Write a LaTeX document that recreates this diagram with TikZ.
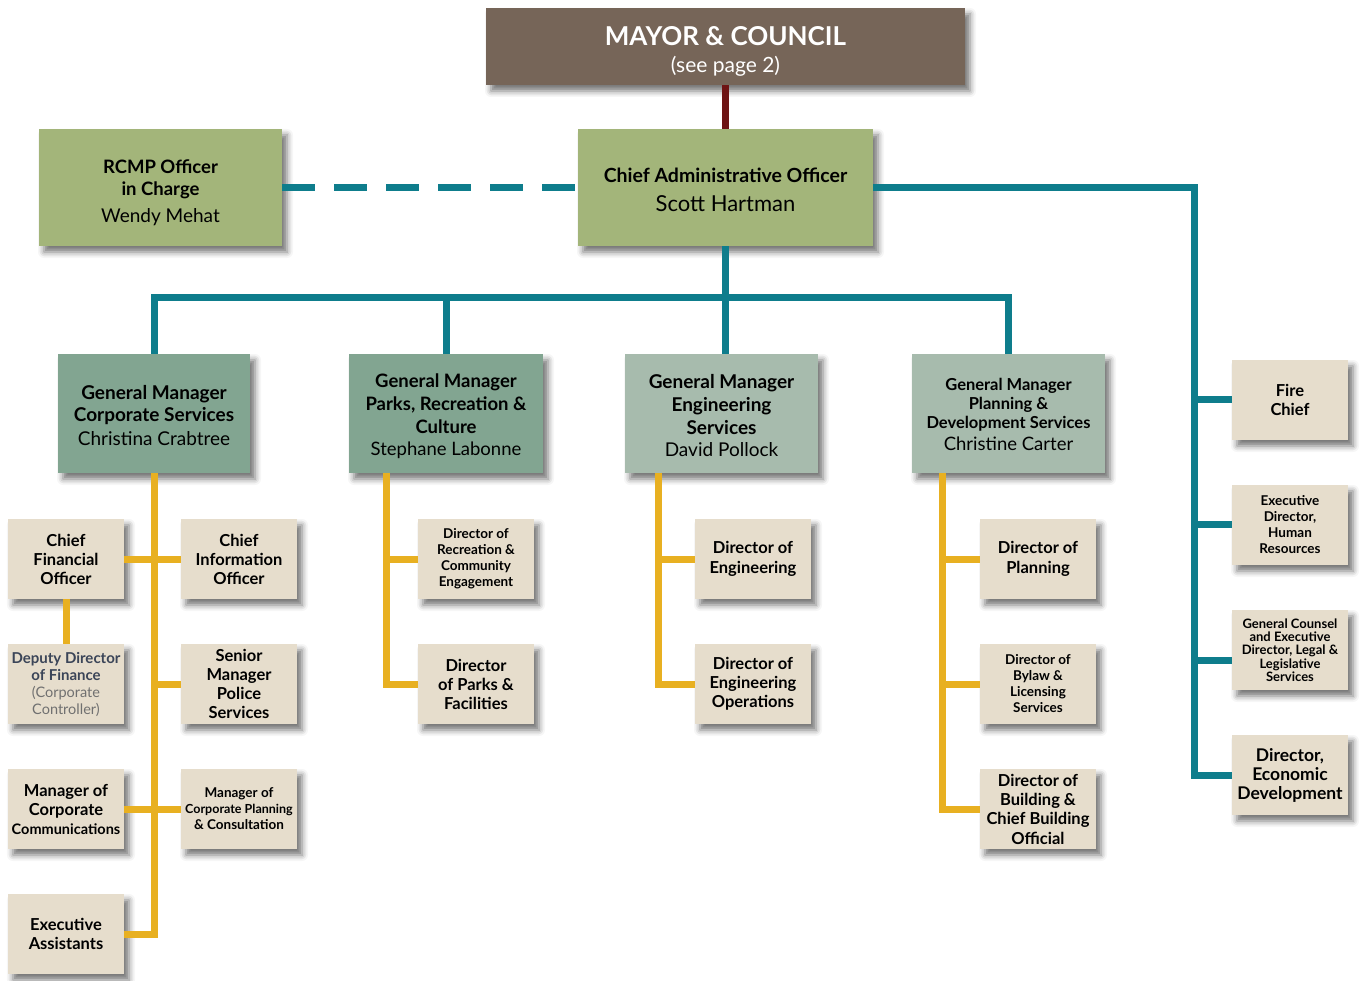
\documentclass[tikz,border=0pt]{standalone}
\usepackage{fontspec}
\setmainfont{Lato}
\usetikzlibrary{shadows.blur}
\definecolor{mayorc}{HTML}{766558}
\definecolor{caoc}{HTML}{A3B57A}
\definecolor{gmdark}{HTML}{82A591}
\definecolor{gmlight}{HTML}{A7BBAD}
\definecolor{beige}{HTML}{E6DDCC}
\definecolor{tealc}{HTML}{0E7D8C}
\definecolor{goldc}{HTML}{E8B021}
\definecolor{redc}{HTML}{6E1414}
\definecolor{slatec}{HTML}{3B4558}
\definecolor{grayc}{HTML}{707070}
\newcommand\fsz[2]{\fontsize{#1}{#2}\selectfont}
\newcommand\lowr[1]{\rule{0pt}{#1}}
\begin{document}
\begin{tikzpicture}[x=1pt,y=-1pt,
  box/.style={rectangle, inner sep=0pt, align=center, text=black,
    blur shadow={shadow xshift=5pt, shadow yshift=-6pt, shadow blur radius=6pt, shadow opacity=55}},
  subbox/.style={box, fill=beige, minimum width=116pt, minimum height=80pt},
  big/.style={font=\fsz{16.5}{19}\bfseries},
  mid/.style={font=\fsz{13.5}{16}\bfseries},
  gmbox/.style={box, minimum width=193pt, minimum height=119pt},
  tline/.style={draw=tealc, line width=7pt},
  gline/.style={draw=goldc, line width=7pt},
  rline/.style={draw=redc, line width=7pt}
]
\useasboundingbox (0,0) rectangle (1361,981);

% top
\node[box, fill=mayorc, text=white, minimum width=479pt, minimum height=77pt, font=\fsz{26}{27}\bfseries] (mayor) at (725.5,46.5)
  {\lowr{29pt}MAYOR \& COUNCIL\\{\mdseries\fsz{21}{27}(see page 2)}};
\node[box, fill=caoc, minimum width=295pt, minimum height=117pt, font=\fsz{19.5}{29}\bfseries] (cao) at (725.5,187.5)
  {\lowr{19pt}Chief Administrative Officer\\{\mdseries\fsz{22}{29}Scott Hartman}};
\node[box, fill=caoc, minimum width=243pt, minimum height=117pt, font=\fsz{18.5}{22}\bfseries] (rcmp) at (160.5,187.5)
  {\lowr{25pt}RCMP Officer\\in Charge\\[5pt]{\mdseries\fsz{19}{22}Wendy Mehat}};

% general managers
\node[gmbox, fill=gmdark, minimum width=192pt, font=\fsz{19}{21.5}\bfseries] (gm1) at (154,413.5)
  {\lowr{18pt}General Manager\\Corporate Services\\[2.5pt]{\mdseries\fsz{19}{21.5}Christina Crabtree}};
\node[gmbox, fill=gmdark, minimum width=194pt, font=\fsz{18.5}{22.7}\bfseries] (gm2) at (446,413.5)
  {\lowr{19.5pt}General Manager\\Parks, Recreation \&\\Culture\\{\mdseries Stephane Labonne}};
\node[gmbox, fill=gmlight, font=\fsz{19}{22.7}\bfseries] (gm3) at (721.5,413.5)
  {\lowr{18.5pt}General Manager\\Engineering\\Services\\{\mdseries David Pollock}};
\node[gmbox, fill=gmlight, font=\fsz{16.5}{19}\bfseries] (gm4) at (1008.5,413.5)
  {\lowr{14pt}General Manager\\Planning \&\\Development Services\\[3pt]{\mdseries\fsz{18.5}{19}Christine Carter}};

% corporate services
\node[subbox, big] (cfo) at (66,559) {Chief\\Financial\\Officer};
\node[subbox, big] (cio) at (239,559) {Chief\\Information\\Officer};
\node[subbox, font=\fsz{15}{17}\bfseries] (ddf) at (66,684)
  {\textcolor{slatec}{Deputy Director}\\\textcolor{slatec}{of Finance}\\\textcolor{grayc}{\mdseries\fsz{14.5}{17}(Corporate}\\\textcolor{grayc}{\mdseries\fsz{14.5}{17}Controller)}};
\node[subbox, big] (smp) at (239,684) {Senior\\Manager\\Police\\Services};
\node[subbox, big] (mcc) at (66,809) {Manager of\\Corporate\\{\fsz{14.5}{19}Communications}};
\node[subbox, font=\fsz{13.5}{16}\bfseries] (mcp) at (239,809) {Manager of\\{\fsz{12.5}{16}Corporate Planning}\\\& Consultation};
\node[subbox, big] (ea) at (66,934) {Executive\\Assistants};

% parks
\node[subbox, mid] (drc) at (476,559) {Director of\\Recreation \&\\Community\\Engagement};
\node[subbox, big] (dpf) at (476,684) {Director\\of Parks \&\\Facilities};

% engineering
\node[subbox, font=\fsz{16.5}{20}\bfseries] (den) at (753,559) {Director of\\Engineering};
\node[subbox, big] (deo) at (753,684) {Director of\\Engineering\\Operations};

% planning
\node[subbox, font=\fsz{16.5}{20}\bfseries] (dpl) at (1038,559) {Director of\\Planning};
\node[subbox, mid] (dbl) at (1038,684) {Director of\\Bylaw \&\\Licensing\\Services};
\node[subbox, font=\fsz{16.5}{19.3}\bfseries] (dbc) at (1038,809) {Director of\\Building \&\\Chief Building\\Official};

% right column
\node[subbox, big] (fire) at (1290,400) {Fire\\Chief};
\node[subbox, mid] (hr) at (1290,525) {Executive\\Director,\\Human\\Resources};
\node[subbox, font=\fsz{13}{13.3}\bfseries] (gc) at (1290,650) {General Counsel\\and Executive\\Director, Legal \&\\Legislative\\Services};
\node[subbox, font=\fsz{17.5}{19}\bfseries] (econ) at (1290,775) {Director,\\Economic\\Development};

% connectors
\coordinate (bus) at (725.5,298);
\coordinate (rb) at (1194,0);
\coordinate (ps) at (386,473);
\coordinate (es) at (658,473);
\coordinate (pls) at (942,473);

\draw[rline] (mayor.south) -- (cao.north);
\draw[draw=tealc, line width=7pt, dash pattern=on 33pt off 19pt] (rcmp.east) -- (cao.west);
\draw[tline] (cao.south) -- (cao.south |- gm3.north);
\draw[tline] (gm1.north) |- (bus) -| (gm4.north);
\draw[tline] (gm2.north) -- (gm2.north |- bus);
\draw[tline] (cao.east) -| (rb |- econ.west) -- (econ.west);
\draw[tline] (fire.west) -- (fire.west -| rb);
\draw[tline] (hr.west) -- (hr.west -| rb);
\draw[tline] ([yshift=-10pt]gc.west) -- ([yshift=-10pt]gc.west -| rb);

\draw[gline] (gm1.south) |- (ea.east);
\draw[gline] (cfo.east) -- (cio.west);
\draw[gline] (mcc.east) -- (mcp.west);
\draw[gline] (smp.west) -- (smp.west -| gm1.south);
\draw[gline] (cfo.south) -- (ddf.north);

\draw[gline] (ps) |- (dpf.west);
\draw[gline] (drc.west) -- (drc.west -| ps);
\draw[gline] (es) |- (deo.west);
\draw[gline] (den.west) -- (den.west -| es);
\draw[gline] (pls) |- (dbc.west);
\draw[gline] (dpl.west) -- (dpl.west -| pls);
\draw[gline] (dbl.west) -- (dbl.west -| pls);
\end{tikzpicture}
\end{document}
